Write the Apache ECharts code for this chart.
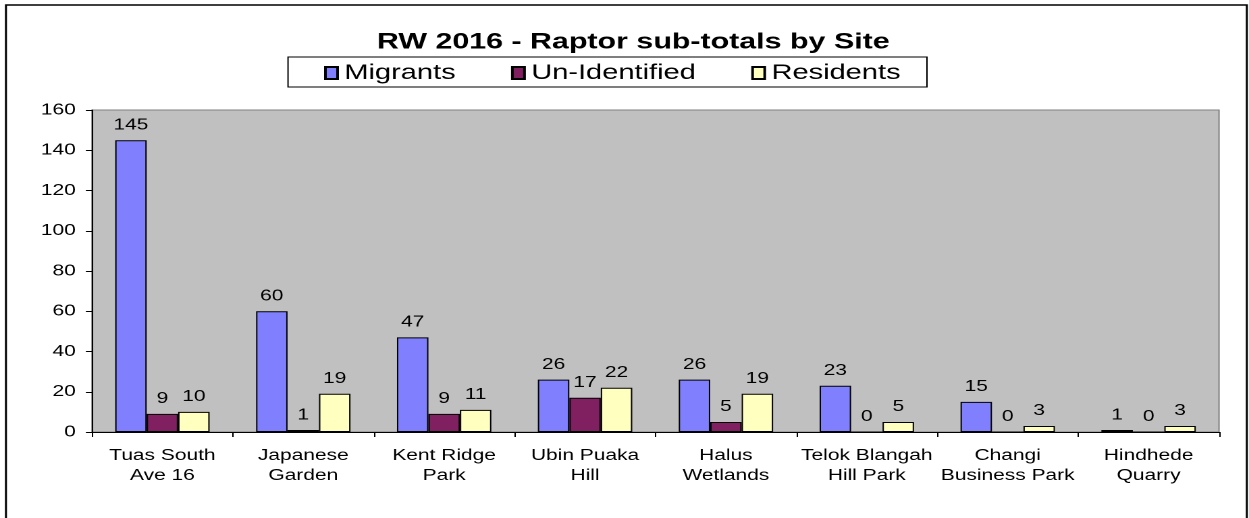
<!DOCTYPE html>
<html>
<head>
<meta charset="utf-8">
<script src="https://cdn.jsdelivr.net/npm/echarts@6/dist/echarts.min.js"></script>
<style>
  html, body { margin: 0; padding: 0; background: #fff; overflow: hidden; }
  /* the reference is stretched sideways, so draw narrower and stretch the chart */
  #main { width: 925px; height: 518px; transform: scaleX(1.35027); transform-origin: 0 0; }
</style>
</head>
<body>
<div id="main"></div>
<script>
const categories = ['Tuas South\nAve 16', 'Japanese\nGarden', 'Kent Ridge\nPark', 'Ubin Puaka\nHill',
  'Halus\nWetlands', 'Telok Blangah\nHill Park', 'Changi\nBusiness Park', 'Hindhede\nQuarry'];
const migrants = [145, 60, 47, 26, 26, 23, 15, 1];
const unidentified = [9, 1, 9, 17, 5, 0, 0, 0];
const residents = [10, 19, 11, 22, 19, 5, 3, 3];
const yTicks = { min: 0, max: 160, interval: 20 };

const font = '"Liberation Sans", Arial, sans-serif';

var chartDom = document.getElementById('main');
var myChart = echarts.init(chartDom, null, { renderer: 'canvas', devicePixelRatio: 2 });

const barSeries = (name, data, color) => ({
  name: name,
  type: 'bar',
  data: data,
  barGap: '0%',
  barCategoryGap: '33%',
  itemStyle: { color: color, borderColor: '#000', borderWidth: 1 },
  label: {
    show: true,
    position: 'top',
    distance: 7,
    color: '#000',
    fontSize: 15.5,
    fontFamily: font
  }
});

var option = {
  animation: false,
  backgroundColor: '#fff',
  title: {
    text: 'RW 2016 - Raptor sub-totals by Site',
    left: 464,
    textAlign: 'center',
    top: 26,
    textStyle: { fontSize: 22.5, fontWeight: 'bold', color: '#000', fontFamily: font }
  },
  graphic: [
    // outer frame
    { type: 'rect', shape: { x: 4.4, y: 5, width: 919, height: 600 },
      style: { fill: null, stroke: '#000', lineWidth: 1.5 }, silent: true },
    // legend frame
    { type: 'rect', shape: { x: 213.3, y: 57, width: 473.2, height: 30 },
      style: { fill: null, stroke: '#000', lineWidth: 1 }, silent: true }
  ],
  legend: {
    left: 240,
    top: 62,
    padding: 0,
    itemGap: 41,
    itemWidth: 9,
    itemHeight: 12,
    icon: 'rect',
    textStyle: { fontSize: 21.5, color: '#000', fontFamily: font },
    data: ['Migrants', 'Un-Identified', 'Residents']
  },
  grid: {
    left: 68.1,
    right: 22.2,
    top: 110,
    bottom: 86,
    show: true,
    backgroundColor: '#C0C0C0',
    borderColor: '#808080',
    borderWidth: 1
  },
  xAxis: {
    type: 'category',
    data: categories,
    axisLine: { lineStyle: { color: '#000', width: 1 } },
    axisTick: { show: true, alignWithLabel: false, length: 5, lineStyle: { color: '#000' } },
    axisLabel: {
      interval: 0,
      margin: 14,
      color: '#000',
      fontSize: 15.5,
      lineHeight: 19.7,
      fontFamily: font
    },
    splitLine: { show: false }
  },
  yAxis: {
    type: 'value',
    min: yTicks.min,
    max: yTicks.max,
    interval: yTicks.interval,
    axisLine: { show: true, lineStyle: { color: '#000', width: 1 } },
    axisTick: { show: true, length: 4.5, lineStyle: { color: '#000' } },
    axisLabel: { margin: 12, color: '#000', fontSize: 15.5, fontFamily: font },
    splitLine: { show: false }
  },
  series: [
    barSeries('Migrants', migrants, '#8080FF'),
    barSeries('Un-Identified', unidentified, '#802060'),
    barSeries('Residents', residents, '#FFFFC0')
  ]
};

option && myChart.setOption(option);
</script>
</body>
</html>
